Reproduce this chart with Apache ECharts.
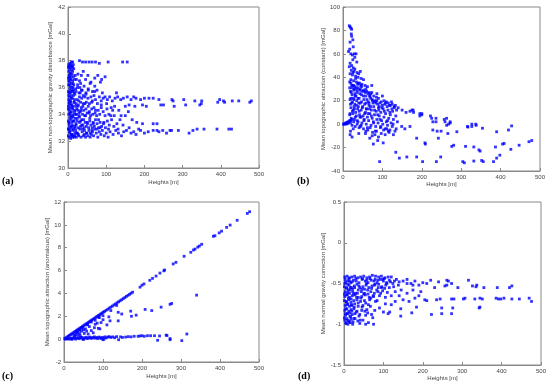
<!DOCTYPE html>
<html><head><meta charset="utf-8">
<script src="https://cdn.jsdelivr.net/npm/echarts@6/dist/echarts.min.js"></script>
<style>html,body{margin:0;padding:0;background:#fff}#c{width:550px;height:391px}</style>
</head><body><div id="c"></div>
<script>
// ---------- Panel (a): mean non-topographic gravity disturbance [mGal] ----------
const aBand = [[1,32.4],[3,32.3],[5,32.6],[7,32.2],[9,32.5],[12,32.3],[15,32.4],[18,32.6],
[2,32.9],[4,33.1],[6,32.8],[8,33.0],[11,33.2],[14,32.9],[17,33.1],[20,32.8],
[1,33.5],[3,33.4],[5,33.7],[8,33.6],[10,33.4],[13,33.8],[16,33.5],[19,33.7],
[2,34.0],[4,34.3],[6,34.1],[9,34.2],[12,34.4],[15,34.0],[18,34.3],
[1,34.6],[3,34.8],[5,34.5],[7,34.9],[10,34.7],[13,34.6],[16,34.9],[20,34.6],
[2,35.1],[4,35.3],[6,35.0],[8,35.4],[11,35.2],[14,35.4],[17,35.1],
[1,35.7],[3,35.6],[5,35.9],[7,35.7],[10,35.8],[13,36.0],[16,35.6],
[2,36.2],[4,36.4],[6,36.1],[9,36.3],[12,36.5],[15,36.2],
[1,36.7],[3,36.9],[5,36.6],[8,36.8],[11,37.0],[14,36.8],
[2,37.2],[4,37.4],[6,37.1],[9,37.3],[12,37.5],[3,37.6],[5,37.8],[7,37.7],[10,37.6],[1,37.5]];
const aFill = [[4,32.7],[9,33.8],[2,35.4],[13,36.3],[6,37.0],[17,34.2],[11,32.5],[3,33.3],[15,35.8],[8,36.6],[19,33.0],[1,34.4],[12,37.2],[5,35.0],[16,32.3],[7,34.7],[10,36.0],[14,33.5],[2,37.7],[18,35.5],[6,33.9],[21,34.0],[13,32.8],[4,36.8],[9,35.2],[24,33.7],[1,32.9],[11,34.5],[15,37.4],[3,36.2],[20,35.9],[8,32.4],[17,36.6],[26,34.6],[5,34.1],[12,35.7],[22,32.6],[7,37.5],[28,35.0],[10,33.1],[30,33.8],[16,34.9],[2,36.5],[34,34.3],[19,36.9],[38,32.9],[6,35.6],[25,36.2],[41,33.6],[14,37.7],[32,35.6],[9,37.9],[44,34.8],[27,32.5],[3,34.9],[36,33.2],[47,35.5],[23,34.4],[50,33.4],[18,32.4],[31,36.0],[39,34.6],[55,34.1],[12,33.9],[43,32.8],[29,34.1],[58,32.6],[35,35.8],[46,33.9],[53,35.8],[21,33.3],[62,34.9],[40,35.4],[66,33.3],[48,32.6],[33,33.5],[72,34.3],[57,33.7],[80,33.6],[63,32.8],[87,34.7],[70,35.7],[94,33.4],[76,32.9],[101,34.8],[84,33.0],[112,33.9],[90,35.6],[122,34.6],[106,32.9],[131,32.9],[117,34.3],[139,33.9],[127,35.6]];
const aMid = [[22,32.3],[25,32.6],[28,32.4],[31,32.9],[34,32.3],[37,32.7],[40,32.4],[43,32.5],[46,32.3],[49,32.6],[52,32.4],[55,32.8],[58,32.3],[61,32.5],[64,32.7],[67,32.4],[70,32.9],[74,32.6],[78,32.3],[82,32.7],[86,32.5],[90,32.8],[95,32.4],[100,32.6],[105,32.3],[110,32.7],[118,32.5],[125,32.8],[132,32.6],[140,32.4],[146,32.7],
[21,33.2],[24,33.5],[27,33.0],[30,33.4],[33,33.1],[36,33.6],[39,33.2],[42,33.0],[45,33.4],[48,33.1],[51,33.3],[54,33.0],[57,33.5],[60,33.2],[63,33.0],[66,33.4],[69,33.1],[72,33.6],[76,33.3],[80,33.0],[84,33.4],[88,33.1],[93,33.3],[98,33.0],[103,33.5],[108,33.2],[114,33.6],[120,33.1],[128,33.3],[136,33.6],[144,33.2],
[22,34.0],[26,34.3],[29,33.9],[32,34.2],[35,34.5],[38,34.0],[41,34.3],[44,33.9],[47,34.4],[50,34.1],[53,34.6],[56,34.2],[59,33.9],[62,34.4],[65,34.0],[68,34.5],[71,34.1],[75,33.9],[79,34.3],[83,34.0],[87,34.5],[92,34.2],[97,33.9],[102,34.4],[107,34.0],[113,34.5],[121,33.9],[133,34.3],
[21,34.8],[24,35.1],[27,34.7],[30,35.3],[33,34.9],[36,35.2],[40,34.8],[44,35.3],[48,34.9],[52,35.2],[56,34.8],[60,35.3],[64,35.0],[68,35.4],[72,35.1],[77,34.8],[82,35.3],[87,35.0],[92,35.2],[97,35.3],[103,35.1],[109,35.3],[116,35.0],[123,35.2],[130,35.3],[138,35.1],[145,35.2],
[21,35.7],[25,36.0],[29,35.6],[33,36.3],[37,35.8],[42,36.1],[47,35.6],[53,35.9],[58,36.3],[64,35.7],[70,36.1],[76,35.8],[85,36.4],
[22,36.6],[26,37.0],[30,36.5],[35,36.9],[40,37.2],[46,36.6],[52,36.9],[60,36.4],[70,36.7],[78,36.9],[88,36.6],[97,36.8],
[12,37.9],[30,38.0],[38,37.9],[46,37.9],[55,37.9],[63,37.9],[72,37.9],[82,37.8],[105,37.9],[143,37.9],[155,37.9]];
const aFar = [[155,35.3],[165,35.1],[172,35.3],[178,35.2],[190,35.1],[200,35.2],[212,35.2],[223,35.2],[238,35.1],[272,35.1],[275,35.0],[303,35.1],[332,35.0],[350,35.0],[392,34.9],[397,35.1],[407,35.0],[410,34.9],[430,35.0],[447,35.0],[476,34.9],[480,35.0],
[150,34.6],[160,34.7],[175,34.6],[195,34.7],[205,34.6],[243,34.7],[250,34.7],[278,34.6],[308,34.7],[345,34.7],[349,34.8],
[150,33.9],[158,34.2],[168,33.6],[180,33.4],[195,33.3],[223,33.3],[233,33.3],[160,33.0],[172,32.7],[185,32.9],
[153,32.8],[165,32.6],[178,32.5],[190,32.8],[200,32.6],[210,32.7],[223,32.8],[233,32.8],[238,32.7],[248,32.8],[258,32.6],[267,32.8],[271,32.8],[289,32.8],[317,32.6],[327,32.8],[338,32.9],[356,32.9],[390,32.9],[421,32.9],[428,32.9]];

// ---------- Panel (b): mean topographic attraction (constant) [mGal] ----------
const bZero = [[1,0],[3,0],[5,0.5],[7,1],[9,1],[11,1.5],[13,2],[15,2],[17,3],[19,3],[12,0.5],[8,0]];
const bPeak = [[16,84],[18,83],[20,82],[22,81],[21,77],[22,75],[18,70],[25,72],[26,66],[17,64],[14,62],[20,60],[24,59],[29,60],[33,60],[30,57],[25,55],[35,53],[18,52],[22,50],[16,49],[26,48],[30,47],[21,46],[28,45],[44,45],[36,44],[40,43],[18,43],[24,42],[32,41],[38,40],[46,39],[52,38],[20,38],[27,37],[34,36],[42,35],[48,34],[56,33],[62,32],[73,33],[22,33],[30,32],[17,31],[38,31],[44,30],[52,29],[60,28],[66,27],[70,26],[78,24],[85,23],[90,22],[100,24],[110,19],[120,16],[130,15],[140,14],[150,12],[160,10],[170,11],[178,12],[195,9],[200,8]];
const bFill = [[17,36],[21,27],[25,44],[19,17],[23,31],[28,21],[32,39],[26,12],[35,29],[18,9],[30,26],[39,35],[22,4],[34,16],[43,26],[27,33],[38,22],[47,19],[20,22],[31,6],[45,33],[52,24],[24,19],[41,11],[57,27],[36,3],[50,15],[61,21],[29,13],[44,-2],[55,9],[66,18],[33,24],[48,28],[59,13],[70,15],[40,18],[53,3],[64,9],[75,20],[46,6],[58,18],[68,24],[80,12],[62,-3],[72,7],[84,18],[91,12],[67,13],[78,1],[88,8],[97,19],[73,27],[82,-6],[94,4],[105,11],[86,26],[99,14],[108,18],[113,3],[119,10],[123,19],[127,0],[133,16],[96,-2],[107,-9],[88,-14],[74,-10],[58,-6],[40,-8],[23,-11],[57,-8],[81,-9],[19,-6]];
const bMid = [[19,28],[23,25],[27,29],[31,24],[36,27],[41,22],[47,25],[53,21],[58,24],[64,19],[70,22],[76,18],[82,20],[88,17],[94,18],[100,16],[106,17],[112,15],[118,16],[124,13],[130,14],[136,12],
[18,21],[22,18],[26,22],[30,17],[35,20],[39,15],[44,18],[49,14],[55,17],[60,13],[66,16],[72,12],[78,15],[84,11],[90,14],[96,10],[102,13],[108,9],[114,12],[120,8],[126,11],[134,7],
[20,14],[24,11],[28,15],[32,10],[37,13],[42,8],[46,12],[51,7],[57,10],[62,6],[68,9],[74,5],[80,8],[86,4],[92,7],[98,3],[104,6],[110,2],[116,5],[122,1],[128,4],[138,2],
[17,8],[21,5],[25,9],[29,4],[34,7],[38,2],[43,6],[48,1],[54,4],[59,0],[65,3],[71,-1],[77,2],[83,-2],[89,1],[95,-3],[101,0],[107,-4],[113,-1],[119,-5],[125,-2],[132,-6],
[19,1],[23,-1],[27,2],[31,-2],[36,0],[41,-3],[46,-1],[52,-4],[63,-5],[69,-3],[75,-7],[85,-6],[97,-8],[103,-5],[117,-7],[135,-4],
[18,-9],[26,-4],[68,-12],[77,-17],[90,-11],[102,-16],[111,-4],[115,-6],[128,-9],[134,-24],[143,-29],[162,-28],[93,-32],
[20,35],[25,33],[29,30],[33,31],[37,34],[42,29],[47,32],[53,28],[58,30],[64,26],[68,24],[74,21],[80,19],[86,20],[92,15],[104,20],[115,18],[125,17]];
const bFar = [[149,-2],[157,-4],[170,-2],[175,12],[179,10],[187,-12],[195,7],[200,9],[208,-16],[209,-17],[202,-32],[187,-28],[222,7],[225,5],[228,2],[228,-5],[236,5],[236,2],[239,-6],[237,-32],[242,-12],[248,-28],[249,-6],[257,4],[259,2],[263,5],[263,-1],[266,-8],[268,0],[272,2],[272,1],[276,-19],[281,-18],[289,-6.5],[304,-32],[308,-33],[311,-19],[316,-2],[317,-2.5],[327,0],[327,-2],[332,-19.5],[332,-31.5],[337,0],[338,-1],[345,-22],[348,-23],[352,-31],[354,-3.5],[356,-32],[382,-32],[387,-19.5],[390,-6.5],[390,-29],[398,-26.5],[405,-17],[409,-16.5],[420,-5],[426,-21.5],[428,-1.5],[447,-18],[472,-15],[479,-14]];

// ---------- Panel (c): mean topographic attraction (anomalous) [mGal] ----------
const cUpper = [[2,0.05],[5,0.12],[8,0.19],[11,0.26],[14,0.33],[17,0.4],[20,0.47],[23,0.54],[26,0.61],[29,0.68],[32,0.75],[35,0.82],[38,0.89],[41,0.96],[44,1.03],[47,1.1],[50,1.17],[53,1.24],[56,1.31],[59,1.38],[62,1.45],[65,1.52],[68,1.59],[71,1.66],[74,1.73],[77,1.8],[80,1.87],[83,1.94],[86,2.01],[89,2.08],[92,2.15],[95,2.22],[98,2.29],[101,2.36],[104,2.43],[108,2.52],[112,2.61],[116,2.71],[120,2.8],[124,2.89],[128,2.99],[132,3.08],[136,3.18],[140,3.27],[144,3.36],[148,3.45],[152,3.55],[156,3.64],[160,3.74],[164,3.83],[168,3.92],[172,4.02],[176,4.11],
[195,4.55],[200,4.72],[205,4.83],[220,5.15],[227,5.32],[236,5.52],[246,5.78],[256,5.98],[258,6.05],[280,6.58],[287,6.72],[308,7.25],[325,7.6],[332,7.8],[336,7.88],[343,8.05],[347,8.15],[353,8.3],[383,9.0],[387,9.05],[398,9.3],[404,9.45],[417,9.78],[426,9.98],[444,10.4],[470,11.0],[476,11.15],
[60,1.25],[80,1.65],[100,2.05],[120,2.5],[135,2.95],[40,0.8],[70,1.5],[90,1.9]];
const cMiddle = [[139,2.35],[148,2.2],[139,1.6],[171,2.45],[173,2.0],[185,2.1],[208,2.6],[225,2.5],[249,2.8],[272,3.05],[276,3.12],[340,3.85],[115,1.95],[118,1.6],[110,1.25],[100,1.7],[90,1.9],[95,1.45],[85,1.4],[80,1.3],[78,1.0],[92,0.9],[88,0.95],[60,1.3],[65,1.1],[70,0.75],[55,0.9],[50,0.8],[45,0.7],[48,1.0],[40,0.5],[38,0.8],[35,0.6],[30,0.4],[32,0.55],[42,0.3],[25,0.35],[28,0.25],[52,0.5],[58,0.7],[75,0.55],[62,0.45],[44,0.95],[36,0.35]];
const cLower = [[3,0.0],[6,0.02],[9,0.05],[12,0.0],[15,0.08],[18,0.03],[21,0.1],[24,0.05],[27,0.12],[30,0.0],[33,0.08],[36,0.13],[39,0.04],[42,0.1],[45,0.15],[48,0.02],[51,0.12],[54,0.08],[57,0.16],[60,0.05],[63,0.12],[66,0.18],[69,0.06],[72,0.14],[75,0.1],[78,0.2],[81,0.08],[84,0.15],[87,0.04],[90,0.18],[93,0.12],[96,0.06],[99,0.15],[102,0.0],[105,0.2],[108,0.1],[112,0.18],[116,0.22],[120,0.15],[125,0.2],[130,0.12],[135,0.22],[140,-0.05],[145,0.2],[150,0.15],[158,0.18],[165,0.22],[172,0.2],[180,0.25],[190,0.25],[195,0.28],[200,0.3],[206,0.25],[214,0.3],[222,0.3],[232,0.3],[240,-0.1],[245,0.28],[262,0.35],[264,0.32],[272,-0.05],[272,0.05],[302,-0.13],[315,0.45],[100,-0.05],[50,-0.03],[20,-0.02]];

// ---------- Panel (d): mean normal gravity correction [mGal] ----------
const dDense = [[2,-0.42],[8,-0.41],[14,-0.43],[20,-0.42],[27,-0.41],[35,-0.43],[42,-0.42],[50,-0.41],[58,-0.43],[65,-0.42],[72,-0.40],[80,-0.41],[88,-0.42],[95,-0.41],[104,-0.43],[112,-0.42],[120,-0.42],
[4,-0.48],[10,-0.47],[17,-0.49],[24,-0.46],[31,-0.47],[38,-0.49],[46,-0.45],[54,-0.47],[61,-0.49],[69,-0.46],[76,-0.47],[84,-0.49],[92,-0.45],[100,-0.47],[108,-0.49],[118,-0.48],[128,-0.47],[140,-0.48],[150,-0.47],
[1,-0.54],[7,-0.55],[13,-0.52],[19,-0.55],[26,-0.53],[33,-0.51],[40,-0.55],[48,-0.54],[56,-0.52],[63,-0.55],[71,-0.53],[79,-0.51],[87,-0.55],[96,-0.54],[106,-0.52],[115,-0.55],[126,-0.54],[138,-0.52],[160,-0.5],[175,-0.52],
[3,-0.6],[9,-0.61],[15,-0.58],[22,-0.6],[29,-0.62],[36,-0.58],[44,-0.6],[52,-0.62],[60,-0.58],[68,-0.6],[77,-0.62],[86,-0.6],[98,-0.59],[110,-0.61],[130,-0.6],[145,-0.58],
[2,-0.66],[8,-0.64],[14,-0.67],[21,-0.65],[28,-0.64],[36,-0.67],[45,-0.66],[54,-0.64],[64,-0.67],[75,-0.66],[90,-0.65],[105,-0.67],[120,-0.65],
[1,-0.71],[6,-0.72],[12,-0.70],[18,-0.73],[25,-0.71],[33,-0.70],[42,-0.72],[52,-0.71],[65,-0.70],[80,-0.72],
[3,-0.77],[8,-0.76],[14,-0.78],[20,-0.77],[27,-0.75],[36,-0.78],[48,-0.77],[62,-0.76],
[2,-0.83],[7,-0.81],[12,-0.84],[18,-0.82],[25,-0.81],[33,-0.84],[45,-0.83],[58,-0.82],[78,-0.83],
[4,-0.89],[9,-0.87],[15,-0.90],[21,-0.88],[28,-0.87],[38,-0.9],[55,-0.89],[70,-0.88],
[2,-0.95],[7,-0.93],[12,-0.96],[18,-0.94],[25,-0.93],[35,-0.96],[48,-0.95],
[5,-0.99],[10,-1.0],[16,-0.98],[22,-1.0],[40,-0.99],[55,-1.0],[75,-1.0]];
const dFill = [[3,-0.45],[11,-0.58],[6,-0.73],[15,-0.86],[1,-0.92],[9,-0.51],[18,-0.69],[4,-0.81],[13,-0.97],[22,-0.57],[7,-0.64],[26,-0.79],[2,-0.5],[17,-0.91],[30,-0.44],[10,-0.75],[34,-0.62],[5,-0.98],[21,-0.48],[38,-0.53],[14,-0.62],[43,-0.68],[8,-0.87],[28,-0.93],[47,-0.44],[19,-0.76],[52,-0.57],[12,-0.44],[31,-0.85],[57,-0.5],[24,-0.63],[61,-0.63],[16,-0.55],[36,-0.74],[66,-0.44],[41,-0.95],[70,-0.56],[46,-0.79],[74,-0.65],[50,-0.63],[79,-0.45],[55,-0.74],[83,-0.58],[60,-0.86],[88,-0.51],[67,-0.78],[93,-0.62],[73,-0.92],[98,-0.45],[84,-0.71],[103,-0.56],[62,-0.98],[109,-0.5],[1,-0.63],[3,-0.87],[6,-0.56],[9,-0.95],[11,-0.68],[14,-0.47],[20,-0.84],[23,-0.97],[27,-0.55],[32,-0.67],[40,-0.88],[45,-0.57],[53,-0.84],[58,-0.46],[68,-0.68],[77,-0.52],[86,-0.46],[95,-0.55],[102,-0.44],[115,-0.46],[124,-0.5],[133,-0.45]];
const dFar = [[172,-0.86],[184,-0.79],[144,-0.81],[144,-0.9],[112,-0.87],[116,-0.85],[248,-0.87],[273,-0.87],[276,-0.8],[222,-0.88],[343,-0.8],[345,-0.79],[248,-0.8],
[261,-0.46],[265,-0.47],[256,-0.53],[261,-0.52],[273,-0.5],[289,-0.55],[316,-0.46],[326,-0.53],[335,-0.54],[337,-0.52],[355,-0.55],[389,-0.55],[420,-0.55],[426,-0.53],
[244,-0.69],[273,-0.69],[279,-0.69],[303,-0.69],[307,-0.68],[332,-0.69],[345,-0.68],[351,-0.69],[386,-0.68],[392,-0.69],[398,-0.69],[406,-0.68],[426,-0.69],[445,-0.69],[470,-0.68],[476,-0.72],
[160,-0.45],[170,-0.5],[180,-0.47],[190,-0.52],[200,-0.49],[210,-0.5],[220,-0.46],[230,-0.55],[240,-0.48],[160,-0.62],[175,-0.58],[190,-0.65],[205,-0.7],[210,-0.71],[235,-0.7],[165,-0.72],[180,-0.68],[195,-0.6],[150,-0.7],[140,-0.65],[130,-0.72],[120,-0.76],[105,-0.75],[100,-0.85],[90,-0.8]];

// axis ranges & labels
const xRange = {min: 0, max: 500, interval: 100};
const yRanges = [
  {min: 30, max: 42, interval: 2},
  {min: -40, max: 100, interval: 20},
  {min: -2, max: 12, interval: 2},
  {min: -1.5, max: 0.5, interval: 0.5}
];
const yNames = [
  'Mean non-topographic gravity disturbance [mGal]',
  'Mean topographic attraction (constant) [mGal]',
  'Mean topographic attraction (anomalous) [mGal]',
  'Mean normal gravity correction [mGal]'
];
const xName = 'Heights [m]';
const panelTags = ['(a)', '(b)', '(c)', '(d)'];

const panelData = [
  aBand.concat(aFill, aMid, aFar),
  bZero.concat(bPeak, bFill, bMid, bFar),
  cUpper.concat(cMiddle, cLower),
  dDense.concat(dFill, dFar)
];

const grids = [
  {left: 68, top: 7, width: 191, height: 161},
  {left: 343, top: 7, width: 197, height: 164},
  {left: 64, top: 202, width: 195, height: 160},
  {left: 344, top: 202, width: 197, height: 163}
];
const yGaps = [15, 15, 14, 14];
const xGaps = [11, 9, 11, 9];
const tagPos = [[2, 182], [297, 182], [2, 377], [298, 377]];

const axisCol = '#8a8a8a';
const font = 'Arial, "Liberation Sans", sans-serif';

const chart = echarts.init(document.getElementById('c'), null, {renderer: 'canvas'});
chart.setOption({
  animation: false,
  backgroundColor: '#fff',
  grid: grids.map(g => Object.assign({show: true, borderColor: axisCol, borderWidth: 1, backgroundColor: '#fff', containLabel: false}, g)),
  xAxis: grids.map((g, i) => ({
    type: 'value', gridIndex: i, min: xRange.min, max: xRange.max, interval: xRange.interval,
    name: xName, nameLocation: 'middle', nameGap: xGaps[i],
    nameTextStyle: {fontSize: 6, color: '#444', fontFamily: font},
    axisLine: {show: true, onZero: false, lineStyle: {color: axisCol, width: 1}},
    axisTick: {show: true, inside: true, length: 3, lineStyle: {color: axisCol}},
    axisLabel: {fontSize: 6, color: '#444', margin: 3, fontFamily: font},
    splitLine: {show: false}
  })),
  yAxis: grids.map((g, i) => ({
    type: 'value', gridIndex: i, min: yRanges[i].min, max: yRanges[i].max, interval: yRanges[i].interval,
    name: yNames[i], nameLocation: 'middle', nameGap: yGaps[i],
    nameTextStyle: {fontSize: 6, color: '#444', fontFamily: font},
    axisLine: {show: true, onZero: false, lineStyle: {color: axisCol, width: 1}},
    axisTick: {show: true, inside: true, length: 3, lineStyle: {color: axisCol}},
    axisLabel: {fontSize: 6, color: '#444', margin: 3, fontFamily: font},
    splitLine: {show: false}
  })),
  series: panelData.map((d, i) => ({
    type: 'scatter', xAxisIndex: i, yAxisIndex: i, data: d,
    symbol: 'rect', symbolSize: 2.8, silent: true,
    itemStyle: {color: '#0000ff'}
  })),
  graphic: panelTags.map((t, i) => ({
    type: 'text', left: tagPos[i][0], top: tagPos[i][1] - 6,
    style: {text: t, fontSize: 10, fontWeight: 'bold', fontFamily: '"Liberation Serif", "Times New Roman", serif', fill: '#000'}
  }))
});
</script>
</body></html>
